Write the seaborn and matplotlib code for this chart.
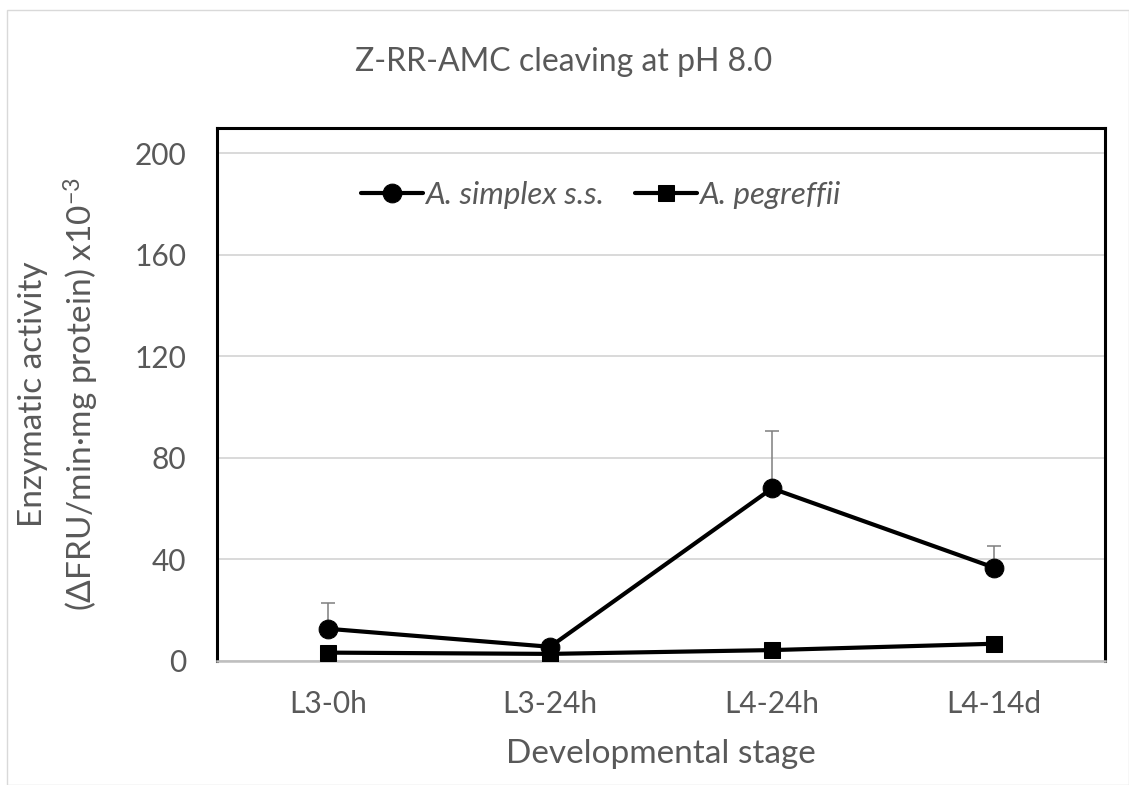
import matplotlib
matplotlib.use("Agg")
import matplotlib.pyplot as plt
import seaborn as sns
import pandas as pd
from matplotlib.patches import Rectangle

stages = ["L3-0h", "L3-24h", "L4-24h", "L4-14d"]
simplex = [12.7, 5.6, 68.0, 36.8]
simplex_err = [10.0, 0.0, 22.5, 8.6]
pegreffii = [3.3, 2.8, 4.3, 6.8]
pegreffii_err = [0.0, 0.0, 0.0, 0.0]
series_names = ["A. simplex s.s.", "A. pegreffii"]
yticks = [0, 40, 80, 120, 160, 200]

sns.set_theme(style="white")
plt.rcParams["font.family"] = ["Lato", "DejaVu Sans"]
plt.rcParams["mathtext.fontset"] = "custom"
plt.rcParams["mathtext.rm"] = "Lato"
plt.rcParams["mathtext.it"] = "Lato:italic"

TXT = "#595959"

df = pd.DataFrame({
    "stage": stages * 2,
    "value": simplex + pegreffii,
    "err": simplex_err + pegreffii_err,
    "series": [series_names[0]] * 4 + [series_names[1]] * 4,
})

fig = plt.figure(figsize=(11.29, 7.85), dpi=100)
ax = fig.add_axes([217 / 1129, 1 - 661 / 785, (1105 - 217) / 1129, (661 - 128) / 785])

# outer chart border
fig.patches.append(Rectangle((7 / 1129, 0), 1 - 7 / 1129 - 0.5 / 1129, 1 - 10 / 785,
                             transform=fig.transFigure, fill=False,
                             edgecolor="#d9d9d9", linewidth=1.0))

for name, mk, ms in [(series_names[0], "o", 13.5), (series_names[1], "s", 12)]:
    sub = df[df["series"] == name]
    ax.errorbar(sub["stage"], sub["value"],
                yerr=[[0] * len(sub), sub["err"].tolist()],
                fmt="none", ecolor="#7f7f7f", elinewidth=1.1,
                capsize=4.7, capthick=1.1, zorder=2)
    sns.lineplot(data=sub, x="stage", y="value", ax=ax, color="black",
                 marker=mk, markersize=ms, markeredgecolor="black",
                 linewidth=3, label=name, zorder=3, sort=False)

ax.set_xlim(-0.5, 3.5)
ax.set_ylim(0, 210)
ax.set_yticks(yticks)
ax.yaxis.grid(True, color="#d9d9d9", linewidth=1.4)
ax.set_axisbelow(True)

for s in ["left", "top", "right"]:
    ax.spines[s].set_color("black")
    ax.spines[s].set_linewidth(2.2)
ax.spines["bottom"].set_color("#bfbfbf")
ax.spines["bottom"].set_linewidth(1.8)

ax.tick_params(axis="both", length=0, labelsize=21.5, labelcolor=TXT)
ax.tick_params(axis="y", pad=22)
ax.tick_params(axis="x", pad=21)

ax.set_xlabel("Developmental stage", fontsize=24, color=TXT, labelpad=15)
ax.set_ylabel("Enzymatic activity\n(ΔFRU/min·mg protein) x10$^{-3}$",
              fontsize=24, color=TXT, labelpad=24, linespacing=1.45)

fig.text(564 / 1129, 1 - 62 / 785, "Z-RR-AMC cleaving at pH 8.0",
         ha="center", va="center", fontsize=23, color=TXT)

leg = ax.legend(loc="center left", bbox_to_anchor=(0.13, 0.875), ncol=2,
                frameon=False, fontsize=22.5, handlelength=2.0,
                handletextpad=0.05, columnspacing=1.0)
for t in leg.get_texts():
    t.set_color(TXT)
    t.set_fontstyle("italic")

fig.savefig("out.png", dpi=100)
